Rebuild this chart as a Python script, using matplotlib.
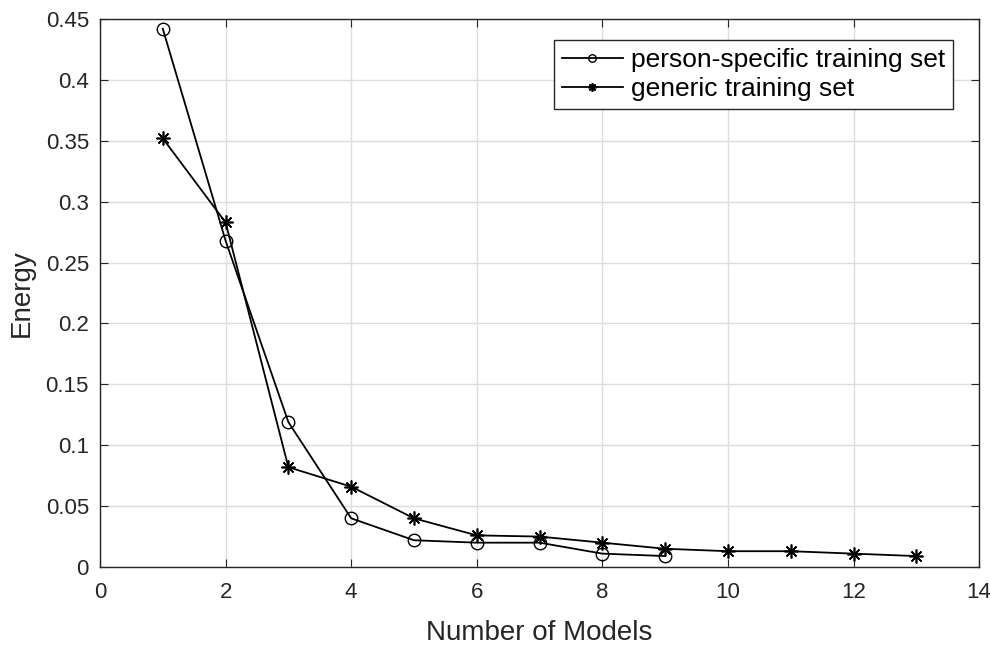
import matplotlib
matplotlib.use("Agg")
import matplotlib.pyplot as plt

# data
person_x = [1, 2, 3, 4, 5, 6, 7, 8, 9]
person_y = [0.442, 0.268, 0.119, 0.040, 0.022, 0.020, 0.020, 0.011, 0.009]
generic_x = [1, 2, 3, 4, 5, 6, 7, 8, 9, 10, 11, 12, 13]
generic_y = [0.352, 0.283, 0.082, 0.066, 0.040, 0.026, 0.025, 0.020, 0.015, 0.013, 0.013, 0.011, 0.009]
labels = ["person-specific training set", "generic training set"]
yticks = [0, 0.05, 0.1, 0.15, 0.2, 0.25, 0.3, 0.35, 0.4, 0.45]
ytick_labels = ["0", "0.05", "0.1", "0.15", "0.2", "0.25", "0.3", "0.35", "0.4", "0.45"]

plt.rcParams['font.family'] = ['Liberation Sans', 'DejaVu Sans']

fig = plt.figure(figsize=(9.9, 6.47), dpi=100)
ax = fig.add_axes([0.101, 0.1236, 0.888, 0.847])

ax.plot(person_x, person_y, color="black", lw=1.3, marker="o", markersize=9,
        markerfacecolor="none", markeredgecolor="black", markeredgewidth=1.0, label=labels[0])
ax.plot(generic_x, generic_y, color="black", lw=1.3, marker=(8, 2, 0), markersize=10,
        markeredgewidth=1.2, label=labels[1])

ax.set_xlim(0, 14)
ax.set_ylim(0, 0.45)
ax.set_xticks(range(0, 15, 2))
ax.set_yticks(yticks)
ax.set_yticklabels(ytick_labels)
ax.grid(True, color="#dddddd", lw=1.0)
ax.set_axisbelow(True)
ax.tick_params(direction="in", top=True, right=True, labelsize=16, colors="#262626", length=6)
ax.tick_params(axis="y", pad=8)
ax.tick_params(axis="x", pad=11)
for s in ax.spines.values():
    s.set_color("#262626")
    s.set_linewidth(1.0)

ax.set_xlabel("Number of Models", fontsize=20, color="#262626", labelpad=12)
ax.set_ylabel("Energy", fontsize=20, color="#262626", labelpad=8)

leg = ax.legend(loc="upper right", bbox_to_anchor=(0.970, 0.9617), fontsize=19, fancybox=False,
                framealpha=1, edgecolor="#262626", handlelength=2.3, handletextpad=0.3,
                borderpad=0.3, labelspacing=0.2, borderaxespad=0, markerscale=0.6)
leg.get_frame().set_linewidth(1.0)

fig.savefig("out.png", dpi=100)
